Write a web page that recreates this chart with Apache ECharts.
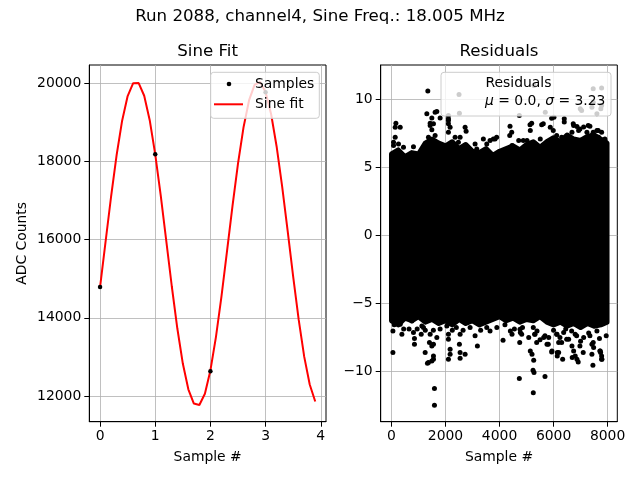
<!DOCTYPE html>
<html><head><meta charset="utf-8">
<script src="https://cdn.jsdelivr.net/npm/echarts@6/dist/echarts.min.js"></script>
<style>html,body{margin:0;padding:0;background:#fff}#c{width:640px;height:480px}</style>
</head><body><div id="c"></div>
<script>
// ---- Sine fit panel ----
const fitX = [0,0.1,0.2,0.3,0.4,0.5,0.6,0.7,0.8,0.9,1.0,1.1,1.2,1.3,1.4,1.5,1.6,1.7,1.8,1.9,2.0,2.1,2.2,2.3,2.4,2.5,2.6,2.7,2.8,2.9,3.0,3.1,3.2,3.3,3.4,3.5,3.6,3.7,3.8,3.9];
const fitY = [14788,15948,17104,18164,19044,19673,20002,20005,19681,19056,18180,17124,15969,14808,13733,12831,12171,11808,11770,12058,12654,13508,14545,15695,16859,17947,18872,19561,19958,20033,19778,19215,18384,17365,16222,15055,13954,13007,12296,11861];
const sampleX = [0,1,2,3];
const sampleY = [14790,18184,12632,19770];
const sineXTicks = [0,1,2,3,4];
const sineYTicks = [12000,14000,16000,18000,20000];

// ---- Residuals panel ----
const residXTicks = [0,2000,4000,6000,8000];
const residYTicks = [-10,-5,0,5,10];
// dense core of the residual cloud (upper / lower edge of the solid region)
const envX = [0,250,500,750,1000,1250,1500,1750,2000,2250,2500,2750,3000,3250,3500,3750,4000,4250,4500,4750,5000,5250,5500,5750,6000,6250,6500,6750,7000,7250,7500,7750,7980];
const envUpper = [6.0,6.3,5.8,6.1,6.0,6.8,7.1,6.8,6.6,6.9,6.4,6.7,6.2,6.1,6.4,5.9,6.2,6.4,6.6,6.3,6.7,6.9,6.5,6.9,7.2,6.9,7.4,7.1,7.0,7.3,7.4,7.1,6.8];
const envLower = [-6.3,-6.6,-6.1,-6.3,-6.0,-6.4,-6.2,-6.5,-6.3,-6.6,-6.2,-6.5,-6.3,-6.6,-6.4,-6.2,-6.0,-6.3,-6.1,-6.4,-6.2,-6.3,-6.0,-6.4,-6.6,-6.4,-6.7,-6.5,-6.8,-6.5,-6.7,-6.6,-6.4];
// individual residual samples outside the dense core
const residX = [
2500,1345,162,137,322,137,74,259,444,813,1308,1615,1800,1493,1678,2107,2514,2107,2170,2107,2725,2762,1431,1493,1368,1615,1553,2355,2540,2477,3094,3157,3401,3771,3894,3527,4388,4377,4733,5128,5190,5139,5560,5693,5878,5930,6015,6396,6396,6744,6866,7039,7468,7779,7468,7750,7605,7779,5276,6988,7420,6681,6928,7113,7235,7420,7605,7667,4462,4710,5017,5324,5508,7346,7779,7900,
74,1431,1553,2107,2107,3649,3834,4451,4880,5620,6729,6976,7283,7468,7653,7900,5989,6115,6300,
52,52,384,322,813,850,850,754,1183,1431,1405,1553,1493,1246,1553,1368,1493,1331,1553,1678,2048,2107,2107,2170,2170,2107,2540,2514,2540,2725,2540,2910,3094,3180,3342,3527,3649,3834,1590,1590,
4130,4400,4462,4770,4747,4733,5080,5139,5202,5265,5240,5276,5250,5683,5387,5634,5820,5757,5941,6126,6189,6189,6374,6559,6681,6744,6866,6803,7114,7420,7483,7420,7457,7727,7790,7852,7605,
5930,6137,6137,6337,6692,6913,7742,7779,
1124,4758,4820,5250,5313,5375,5683,5804,6115,6237,6300,6485,6670,6855,6976,7098,7346,7468,7716,7779,
100,450,650,950,1100,1250,1550,1800,2250,2400,2650,3300,3900,
4200,4550,4850,5300,5500,6000,6450,6800,7000,7300,7700,7950
];
const residY = [
10.38,10.64,8.27,7.97,7.97,7.24,6.62,6.74,6.5,6.54,8.96,9.08,8.66,8.66,9.13,8.83,9.01,8.46,7.97,7.61,7.97,7.68,8.27,7.78,7.24,7.36,6.74,7.24,7.24,6.87,6.74,6.37,7.11,7.11,7.24,6.74,8.05,7.36,8.83,8.15,8.27,7.73,8.15,9.08,7.97,8.64,8.71,8.59,8.35,8.1,8.02,9.2,10.8,10.86,9.82,9.33,8.96,9.57,11.05,9.33,9.45,7.61,7.73,7.98,7.61,7.36,7.73,7.24,6.62,6.99,6.99,6.74,7.11,8.05,7.6,7.11,
6.87,8.1,8.22,8.59,8.22,6.99,7.11,7.61,6.99,8.22,8.22,7.85,8.1,7.61,7.73,6.99,7.73,7.36,7.24,
-7.05,-8.64,-7.29,-6.55,-7.16,-7.61,-8.03,-6.31,-6.79,-7.29,-7.9,-8.03,-8.15,-8.64,-8.89,-9.38,-9.26,-9.43,-9.14,-7.53,-6.68,-7.29,-7.66,-8.4,-8.77,-9.14,-7.29,-8.03,-8.64,-8.77,-9.06,-6.79,-7.41,-8.15,-6.31,-6.79,-7.05,-5.94,-11.3,-12.53,
-7.73,-7.05,-7.29,-7.16,-7.9,-10.56,-7.53,-8.52,-8.77,-9.21,-9.95,-10.12,-11.6,-10.41,-7.05,-7.53,-7.53,-8.03,-8.52,-7.29,-7.9,-8.64,-7.16,-7.66,-8.15,-8.52,-9.14,-8.89,-7.53,-8.03,-8.27,-8.77,-9.58,-8.52,-9.14,-6.06,-7.05,
-8.6,-8.64,-8.89,-9.14,-9.0,-9.33,-8.64,-9.14,
-6.68,-6.92,-7.29,-6.79,-7.29,-7.9,-7.41,-8.03,-7.29,-7.53,-7.9,-7.66,-7.05,-7.41,-8.15,-8.64,-7.41,-7.9,-8.52,-8.89,
-6.6,-6.9,-6.9,-6.9,-7.3,-7.0,-7.0,-6.9,-7.0,-6.8,-7.0,-7.0,-6.8,
-6.6,-6.9,-6.8,-7.3,-7.7,-7.0,-6.9,-7.3,-7.8,-7.2,-7.6,-7.4
];

const FONT = 'DejaVu Sans';
const FS = 13.9;
const fmt = v => String(v).replace('-', '\u2212');

function valueAxis(gridIndex, min, max, ticks, extra) {
  return Object.assign({
    type: 'value', gridIndex, min, max,
    axisLine: { show: true, onZero: false, lineStyle: { color: '#000', width: 1 } },
    axisTick: { show: true, inside: false, length: 5, lineStyle: { color: '#000', width: 1 }, customValues: ticks },
    axisLabel: { show: true, customValues: ticks, color: '#000', fontFamily: FONT, fontSize: FS, margin: 8, formatter: fmt },
    splitLine: { show: true, lineStyle: { color: '#b0b0b0', width: 0.8 } },
    nameTextStyle: { color: '#000', fontFamily: FONT, fontSize: FS }
  }, extra || {});
}

const chart = echarts.init(document.getElementById('c'), null, { renderer: 'canvas' });
chart.setOption({
  animation: false,
  backgroundColor: '#fff',
  textStyle: { fontFamily: FONT },
  title: [
    { text: 'Run 2088, channel4, Sine Freq.: 18.005 MHz', left: 320, top: 8, textAlign: 'center', padding: 0,
      textStyle: { fontFamily: FONT, fontSize: 16.67, fontWeight: 'normal', color: '#000' } },
    { text: 'Sine Fit', left: 207.6, top: 43, textAlign: 'center', padding: 0,
      textStyle: { fontFamily: FONT, fontSize: 16.67, fontWeight: 'normal', color: '#000' } },
    { text: 'Residuals', left: 499, top: 43, textAlign: 'center', padding: 0,
      textStyle: { fontFamily: FONT, fontSize: 16.67, fontWeight: 'normal', color: '#000' } }
  ],
  grid: [
    { left: 89.3, top: 65, width: 236.7, height: 356.7, show: true, borderColor: '#000', borderWidth: 1, backgroundColor: 'transparent' },
    { left: 380.7, top: 65, width: 236.6, height: 356.7, show: true, borderColor: '#000', borderWidth: 1, backgroundColor: 'transparent' }
  ],
  xAxis: [
    valueAxis(0, -0.195, 4.095, sineXTicks, { name: 'Sample #', nameLocation: 'middle', nameGap: 29 }),
    valueAxis(1, -400, 8360, residXTicks, { name: 'Sample #', nameLocation: 'middle', nameGap: 29 })
  ],
  yAxis: [
    valueAxis(0, 11343, 20468, sineYTicks, { name: 'ADC Counts', nameLocation: 'middle', nameGap: 60 }),
    valueAxis(1, -13.74, 12.56, residYTicks)
  ],
  series: [
    { name: 'Samples', type: 'scatter', xAxisIndex: 0, yAxisIndex: 0, symbol: 'circle', symbolSize: 4.5,
      itemStyle: { color: '#000', opacity: 1 }, z: 3,
      data: sampleX.map((x, i) => [x, sampleY[i]]) },
    { name: 'Sine fit', type: 'line', xAxisIndex: 0, yAxisIndex: 0, showSymbol: false, symbol: 'none', smooth: false,
      lineStyle: { color: '#ff0000', width: 2 }, z: 2,
      data: fitX.map((x, i) => [x, fitY[i]]) },
    { name: 'Residual core', type: 'custom', xAxisIndex: 1, yAxisIndex: 1, silent: true, z: 2,
      data: [[0, 0]],
      renderItem: function (params, api) {
        const pts = [];
        for (let i = 0; i < envX.length; i++) pts.push(api.coord([envX[i], envUpper[i]]));
        for (let i = envX.length - 1; i >= 0; i--) pts.push(api.coord([envX[i], envLower[i]]));
        return { type: 'polygon', shape: { points: pts },
                 style: { fill: '#000', stroke: '#000', lineWidth: 5, lineJoin: 'round' } };
      } },
    { name: 'Residuals', type: 'scatter', xAxisIndex: 1, yAxisIndex: 1, symbol: 'circle', symbolSize: 5,
      itemStyle: { color: '#000', opacity: 1 }, z: 3,
      data: residX.map((x, i) => [x, residY[i]]) }
  ],
  graphic: [
    // legend of the Sine Fit panel
    { type: 'rect', z: 100, shape: { x: 210.7, y: 72.3, width: 108.6, height: 46, r: 3 },
      style: { fill: 'rgba(255,255,255,0.8)', stroke: '#cccccc', lineWidth: 1 } },
    { type: 'circle', z: 101, shape: { cx: 229, cy: 84, r: 2.3 }, style: { fill: '#000' } },
    { type: 'line', z: 101, shape: { x1: 214, y1: 104.3, x2: 243, y2: 104.3 }, style: { stroke: '#ff0000', lineWidth: 2 } },
    { type: 'text', z: 101, x: 255, y: 84, style: { text: 'Samples', fontFamily: FONT, fontSize: FS, fill: '#000', verticalAlign: 'middle', align: 'left' } },
    { type: 'text', z: 101, x: 255, y: 104.3, style: { text: 'Sine fit', fontFamily: FONT, fontSize: FS, fill: '#000', verticalAlign: 'middle', align: 'left' } },
    // legend of the Residuals panel
    { type: 'rect', z: 100, shape: { x: 441, y: 72.3, width: 170, height: 43.7, r: 3 },
      style: { fill: 'rgba(255,255,255,0.8)', stroke: '#cccccc', lineWidth: 1 } },
    { type: 'text', z: 101, x: 485.5, y: 83.3, style: { text: 'Residuals', fontFamily: FONT, fontSize: FS, fill: '#000', verticalAlign: 'middle', align: 'left' } },
    { type: 'text', z: 101, x: 485, y: 101.7, style: {
        text: '{i|\u03bc} = 0.0, {i|\u03c3} = 3.23', fontFamily: FONT, fontSize: FS, fill: '#000', verticalAlign: 'middle', align: 'left',
        rich: { i: { fontFamily: FONT, fontSize: FS, fontStyle: 'italic', fill: '#000' } } } }
  ]
});
</script>
</body></html>
